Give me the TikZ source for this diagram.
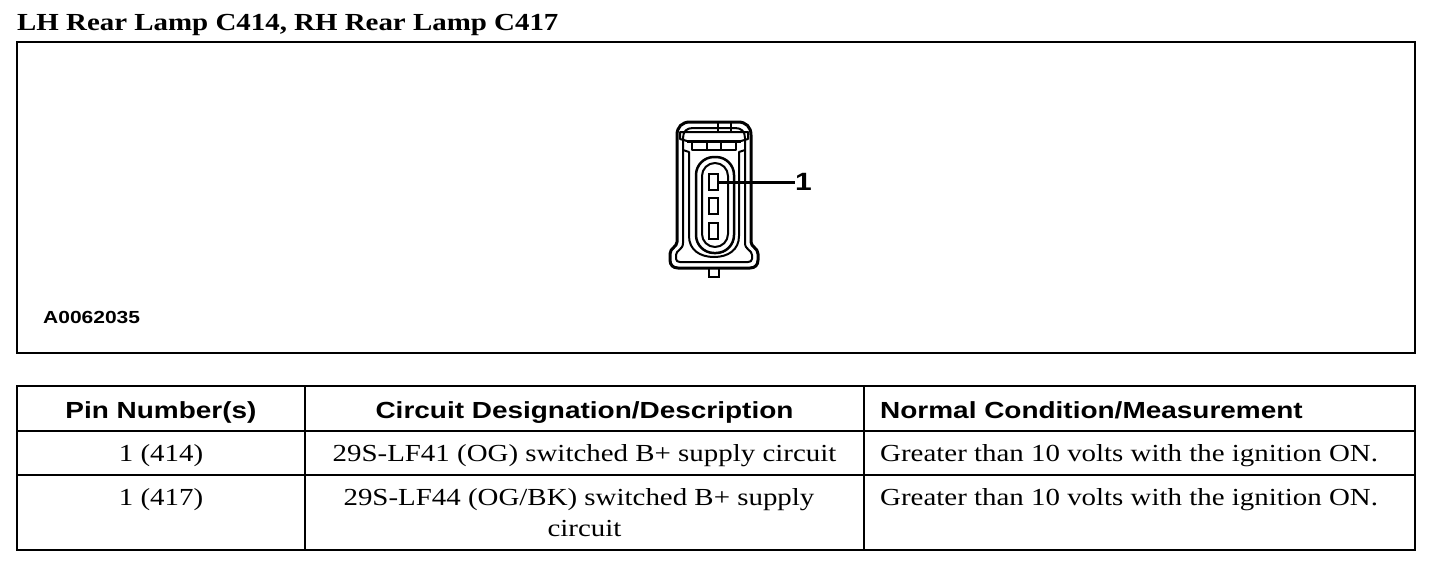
\documentclass[tikz,border=0pt]{standalone}
\usepackage{fontspec}
\setmainfont{Liberation Serif}[FakeStretch=1.18]
\setsansfont{Liberation Sans}[FakeStretch=1.2]
\begin{document}
\begin{tikzpicture}[x=1pt,y=-1pt]
\tikzset{
  frameline/.style={line width=2pt},
  hdr/.style={font=\sffamily\bfseries\fontsize{23.3}{28}\selectfont, inner sep=0pt},
  cell/.style={font=\fontsize{24.5}{30}\selectfont, inner sep=0pt},
  bodyline/.style={line width=3pt, line join=round},
  thinline/.style={line width=2pt, line join=round},
  pinbox/.style={draw, line width=2.2pt, minimum width=9pt, minimum height=16pt, inner sep=0pt},
  leader/.style={line width=3pt},
}
\useasboundingbox (0,0) rectangle (1440,574);
% title
\node[font=\bfseries\fontsize{24.5}{30}\selectfont, inner sep=0pt, anchor=base west] (title) at (17,30) {LH Rear Lamp C414, RH Rear Lamp C417};
% frame
\draw[frameline] (17,42) rectangle (1415,353);
\node[font=\sffamily\bfseries\fontsize{17.5}{21}\selectfont, inner sep=0pt, anchor=base west] (code) at (43,323) {A0062035};
% connector body outer
\draw[bodyline] (677,242) -- (677,135) .. controls (677,127) and (682,122) .. (690,122) -- (738,122)
  .. controls (746,122) and (751,127) .. (751,135) -- (751,242)
  .. controls (751,247) and (758,248) .. (758,254) -- (758,260)
  .. controls (758,265) and (755,268) .. (750,268) -- (678,268)
  .. controls (673,268) and (670,265) .. (670,260) -- (670,254)
  .. controls (670,248) and (677,247) .. (677,242) -- cycle;
% inner wall line
\draw[thinline] (683,243) -- (683,138) .. controls (683,131) and (687,128) .. (693,128) -- (735,128)
  .. controls (741,128) and (745,131) .. (745,138) -- (745,243)
  .. controls (745,250) and (752,250) .. (752,255) -- (752,259)
  .. controls (752,261) and (750,262) .. (748,262) -- (680,262)
  .. controls (678,262) and (676,261) .. (676,259) -- (676,255)
  .. controls (676,250) and (683,250) .. (683,243);
% latch
\draw[thinline] (718,122) -- (718,132);
\draw[thinline] (731,122) -- (731,132);
\draw[thinline] (687,141) -- (680,139) -- (680,132) -- (748,132) -- (748,139) -- (741,141);
\draw[bodyline] (687,141) -- (741,141);
\draw[thinline] (692,141) rectangle (736,150);
\draw[thinline] (707,141) -- (707,150);
\draw[thinline] (721,141) -- (721,150);
% side notches and shroud
\draw[thinline] (683,150) -- (689,152) -- (689,160);
\draw[thinline] (745,150) -- (739,152) -- (739,160);
\draw[thinline] (689,160) -- (689,236) .. controls (689,250) and (700,257) .. (714,257)
  .. controls (728,257) and (739,250) .. (739,236) -- (739,160);
% oval
\draw[line width=2.5pt, rounded corners=18pt] (696,157) rectangle (734,253);
\draw[thinline, rounded corners=13pt] (702,163) rectangle (728,247);
% pins
\node[pinbox] (p1) at (713.5,182) {};
\node[pinbox] (p2) at (713.5,206) {};
\node[pinbox] (p3) at (713.5,231) {};
% nub
\draw[line width=2.5pt] (709,268) -- (709,277) -- (719,277) -- (719,268);
% label 1
\node[font=\sffamily\bfseries\fontsize{25}{28}\selectfont, inner sep=0pt, anchor=west] (n1) at (795,182) {1};
\draw[leader] (p1.east) -- (n1.west);
% table
\draw[frameline] (17,386) rectangle (1415,550);
\draw[frameline] (17,431) -- (1415,431);
\draw[line width=2.5pt] (17,475) -- (1415,475);
\draw[frameline] (305,386) -- (305,550);
\draw[frameline] (864,386) -- (864,550);
\node[hdr, anchor=base] (h1) at (161,418) {Pin Number(s)};
\node[hdr, anchor=base] (h2) at (584.5,418) {Circuit Designation/Description};
\node[hdr, anchor=base west] (h3) at (880,418) {Normal Condition/Measurement};
\node[cell, anchor=base] (a1) at (161,461) {1 (414)};
\node[cell, anchor=base] (b1) at (584.5,461) {29S-LF41 (OG) switched B+ supply circuit};
\node[cell, anchor=base west] (c1) at (880,461) {Greater than 10 volts with the ignition ON.};
\node[cell, anchor=base] (a2) at (161,505) {1 (417)};
\node[cell, anchor=base] (b2) at (579,505) {29S-LF44 (OG/BK) switched B+ supply};
\node[cell, anchor=base] (b2b) at (584.5,536) {circuit};
\node[cell, anchor=base west] (c2) at (880,505) {Greater than 10 volts with the ignition ON.};
\end{tikzpicture}
\end{document}
